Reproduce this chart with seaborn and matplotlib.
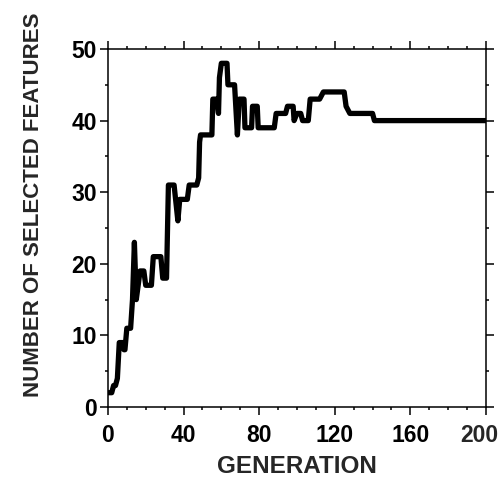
import matplotlib
matplotlib.use("Agg")
import matplotlib.pyplot as plt
from matplotlib.ticker import MultipleLocator
import seaborn as sns
import pandas as pd

# vertices of the trace
generation = [0, 2, 3, 4, 5, 6, 8, 8.5, 9, 10, 12, 13, 14, 15, 16, 17, 19, 20, 23,
              24, 28, 29, 31, 32, 35, 37, 38, 42, 43, 47, 48, 48.5, 49, 55, 55.5,
              57.5, 58.5, 59, 60, 63, 63.5, 67, 68.5, 69.5, 72, 72.5, 76, 76.5, 79,
              79.5, 88, 89, 94, 95, 98, 98.5, 100, 102, 103, 106, 107, 112, 114,
              125, 126, 128, 140, 141, 200]
n_features = [2, 2, 3, 3, 4, 9, 9, 8, 8, 11, 11, 15, 23, 15, 17, 19, 19, 17, 17,
              21, 21, 18, 18, 31, 31, 26, 29, 29, 31, 31, 32, 37, 38, 38, 43,
              43, 41, 46, 48, 48, 45, 45, 38, 43, 43, 39, 39, 42, 42,
              39, 39, 41, 41, 42, 42, 40, 41, 41, 40, 40, 43, 43, 44,
              44, 42, 41, 41, 40, 40]

x_ticks = [0, 40, 80, 120, 160, 200]
x_ticklabels = ["0", "40", "80", "120", "160", "200"]

df = pd.DataFrame({"gen": generation, "nsel": n_features})

sns.set_style("ticks")
plt.rcParams['font.family'] = ['Liberation Sans', 'DejaVu Sans']
plt.rcParams['font.weight'] = 'bold'

fig = plt.figure(figsize=(5.02, 4.78), dpi=100)
ax = fig.add_axes([0.215, 0.1485, 0.753, 0.749])

sns.lineplot(data=df, x="gen", y="nsel", estimator=None, sort=False,
             color="black", linewidth=3.8, ax=ax)

ax.set_xlim(0, 200)
ax.set_ylim(0, 50)
# the last label is drawn separately, nudged left like in the original
ax.set_xticks(x_ticks, labels=x_ticklabels[:-1] + [""])
ax.xaxis.set_minor_locator(MultipleLocator(10))
ax.yaxis.set_major_locator(MultipleLocator(10))
ax.yaxis.set_minor_locator(MultipleLocator(5))

for s in ax.spines.values():
    s.set_linewidth(1.1)
    s.set_color("black")

ax.tick_params(which="both", direction="out", top=True, right=True,
               colors="black", width=1.1)
ax.tick_params(which="major", length=5.5, labelsize=16.5, pad=2.5)
ax.tick_params(which="minor", length=2.5)
ax.tick_params(axis="x", which="major", pad=6.5)

ax.annotate(x_ticklabels[-1], xy=(x_ticks[-1], 0), xycoords=("data", "axes fraction"),
            xytext=(-4.5, -12), textcoords="offset points",
            ha="center", va="top", fontsize=16.5, fontweight="bold")

ax.set_xlabel("GENERATION", fontsize=17.5, fontweight="bold", labelpad=6)
ax.set_ylabel("NUMBER OF SELECTED FEATURES", fontsize=16, fontweight="bold")
ax.yaxis.set_label_coords(-0.17, 0.565)

fig.savefig("out.png", dpi=100)
